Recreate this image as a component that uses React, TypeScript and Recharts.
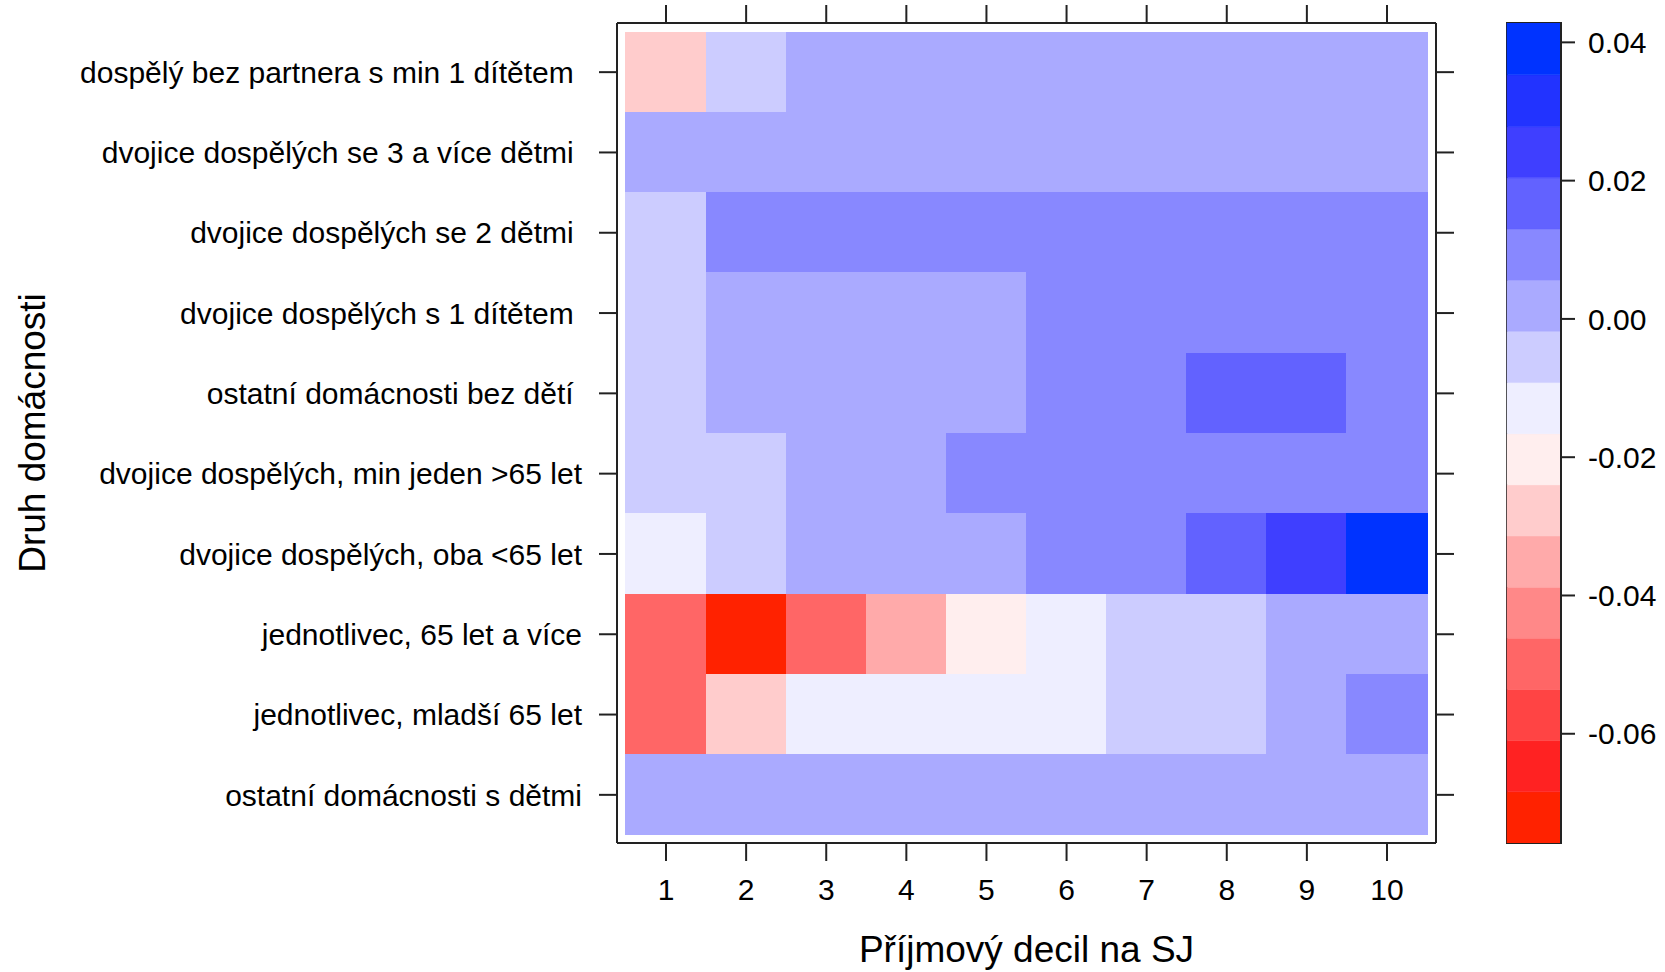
import React from 'react';
import { BarChart, Bar, XAxis, YAxis, Cell, ReferenceArea } from 'recharts';

// rows from top to bottom
const households = [
  'dospělý bez partnera s min 1 dítětem\u00A0',
  'dvojice dospělých se 3 a více dětmi\u00A0',
  'dvojice dospělých se 2 dětmi\u00A0',
  'dvojice dospělých s 1 dítětem\u00A0',
  'ostatní domácnosti bez dětí\u00A0',
  'dvojice dospělých, min jeden >65 let',
  'dvojice dospělých, oba <65 let',
  'jednotlivec, 65 let a více',
  'jednotlivec, mladší 65 let',
  'ostatní domácnosti s dětmi',
];

const deciles = [1, 2, 3, 4, 5, 6, 7, 8, 9, 10];

// values by decile 1..10
const singleParent = [-0.0281, -0.0061, 0.0018, 0.0025, 0.0031, 0.0022, 0.0015, 0.0028, 0.0012, 0.002];
const couple3Kids = [0.0008, 0.0021, 0.0034, 0.0029, 0.004, 0.0036, 0.0019, 0.0045, 0.0027, 0.0038];
const couple2Kids = [-0.0048, 0.0072, 0.0091, 0.0095, 0.0088, 0.0102, 0.0099, 0.011, 0.0106, 0.0094];
const couple1Kid = [-0.0062, 0.0011, 0.0026, 0.0038, 0.0047, 0.0068, 0.0079, 0.0085, 0.0097, 0.0089];
const otherNoKids = [-0.0035, -0.0004, 0.0022, 0.0033, 0.0049, 0.0081, 0.0112, 0.0152, 0.0168, 0.0121];
const coupleOver65 = [-0.0069, -0.0042, 0.0006, 0.0037, 0.0064, 0.0078, 0.0087, 0.0101, 0.0115, 0.0124];
const coupleUnder65 = [-0.0124, -0.0058, -0.0009, 0.0024, 0.0051, 0.0082, 0.0118, 0.0176, 0.0239, 0.0428];
const singleOver65 = [-0.0508, -0.0758, -0.0489, -0.0342, -0.0197, -0.0115, -0.0071, -0.0043, -0.001, 0.0007];
const singleUnder65 = [-0.0476, -0.0262, -0.0139, -0.012, -0.0108, -0.0097, -0.0083, -0.0052, 0.0003, 0.0067];
const otherWithKids = [0.0004, 0.0013, 0.0021, 0.0017, 0.003, 0.0026, 0.0035, 0.0024, 0.0041, 0.0032];

const rows = [
  singleParent, couple3Kids, couple2Kids, couple1Kid, otherNoKids,
  coupleOver65, coupleUnder65, singleOver65, singleUnder65, otherWithKids,
];

// colour key: 16 bins, low -> high
const binEdges = [
  -0.0758, -0.0684, -0.061, -0.0536, -0.0462, -0.0388, -0.0314, -0.024, -0.0166,
  -0.0092, -0.0018, 0.0056, 0.013, 0.0204, 0.0278, 0.0353, 0.0428,
];
const binColors = [
  '#FF2200', '#FF2222', '#FF4444', '#FF6666', '#FF8888', '#FFAAAA', '#FFCCCC', '#FFEEEE',
  '#EEEEFF', '#CCCCFF', '#AAAAFF', '#8888FF', '#6262FF', '#3F3FFF', '#2233FF', '#0033FF',
];
const keyTicks = [-0.06, -0.04, -0.02, 0, 0.02, 0.04];

const FONT = '"Liberation Sans", Arial, Helvetica, sans-serif';
const INK = '#222';

function colorOf(v: number) {
  for (let i = 0; i < binColors.length; i++) {
    if (v < binEdges[i + 1]) return binColors[i];
  }
  return binColors[binColors.length - 1];
}

const heatData = households.map((name) => {
  const row: Record<string, number | string> = { name, base: 0.5 };
  deciles.forEach((d) => (row[`d${d}`] = 1));
  return row;
});

const keyData = [
  binEdges.slice(1).reduce(
    (acc, e, i) => ({ ...acc, [`b${i}`]: e - binEdges[i] }),
    { k: 'key', base: binEdges[0] } as Record<string, number | string>,
  ),
];

const YTitle = ({ viewBox }: any) => {
  const cx = viewBox.x + 32;
  const cy = viewBox.y + viewBox.height / 2;
  return (
    <text
      x={cx}
      y={cy}
      transform={`rotate(-90 ${cx} ${cy})`}
      textAnchor="middle"
      dominantBaseline="central"
      fontSize={37}
      fill="#000"
    >
      Druh domácnosti
    </text>
  );
};

// tick marks without labels (top and right sides of the panel)
const NoLabel = () => <g />;

const xDomain: [number, number] = [0.388, 10.612];
const axisLine = { stroke: INK, strokeWidth: 2 };
const tickLine = { stroke: INK, strokeWidth: 2 };

export default function App() {
  return (
    <div style={{ position: 'absolute', left: 0, top: 0, width: 1665, height: 972, background: '#fff', fontFamily: FONT }}>
      <div style={{ position: 'absolute', left: 0, top: 0 }}>
        <BarChart
          width={1500}
          height={972}
          data={heatData}
          layout="vertical"
          margin={{ top: 0, right: 0, bottom: 0, left: 0 }}
          barCategoryGap={0}
          barGap={0}
        >
          <XAxis
            xAxisId="b"
            type="number"
            orientation="bottom"
            domain={xDomain}
            allowDataOverflow
            ticks={deciles}
            height={129}
            tickSize={18}
            tickMargin={18}
            tick={{ fontSize: 30, fill: '#000' }}
            axisLine={axisLine}
            tickLine={tickLine}
            label={{ value: 'Příjmový decil na SJ', position: 'insideBottom', offset: 10, fontSize: 37, fill: '#000' }}
          />
          <XAxis
            xAxisId="t"
            type="number"
            orientation="top"
            domain={xDomain}
            allowDataOverflow
            ticks={deciles}
            height={23}
            tickSize={18}
            tick={NoLabel}
            axisLine={axisLine}
            tickLine={tickLine}
          />
          <YAxis
            yAxisId="l"
            type="category"
            dataKey="name"
            width={617}
            padding={{ top: 9, bottom: 8 }}
            tickSize={18}
            tickMargin={17}
            tick={{ fontSize: 30, fill: '#000' }}
            axisLine={axisLine}
            tickLine={tickLine}
            label={<YTitle />}
          />
          <YAxis
            yAxisId="r"
            type="category"
            dataKey="name"
            orientation="right"
            width={64}
            padding={{ top: 9, bottom: 8 }}
            tickSize={18}
            tick={NoLabel}
            axisLine={axisLine}
            tickLine={tickLine}
          />
          <Bar dataKey="base" stackId="s" xAxisId="b" yAxisId="l" fill="transparent" isAnimationActive={false} />
          {deciles.map((d, j) => (
            <Bar key={d} dataKey={`d${d}`} stackId="s" xAxisId="b" yAxisId="l" isAnimationActive={false}>
              {rows.map((r, i) => (
                <Cell key={i} fill={colorOf(r[j])} stroke={colorOf(r[j])} strokeWidth={1} shapeRendering="crispEdges" />
              ))}
            </Bar>
          ))}
        </BarChart>
      </div>
      <div style={{ position: 'absolute', left: 1500, top: 0 }}>
        <BarChart
          width={165}
          height={972}
          data={keyData}
          margin={{ top: 23, right: 0, bottom: 129, left: 7 }}
          barCategoryGap={0}
          barGap={0}
        >
          <XAxis dataKey="k" type="category" hide />
          <YAxis
            type="number"
            orientation="right"
            domain={[binEdges[0], binEdges[binEdges.length - 1]]}
            allowDataOverflow
            ticks={keyTicks}
            tickFormatter={(v: number) => v.toFixed(2)}
            width={104}
            tickSize={14}
            tickMargin={13}
            tick={{ fontSize: 30, fill: '#000' }}
            axisLine={axisLine}
            tickLine={tickLine}
          />
          <Bar dataKey="base" stackId="k" fill="transparent" isAnimationActive={false} />
          {binColors.map((c, i) => (
            <Bar key={i} dataKey={`b${i}`} stackId="k" fill={c} stroke={c} strokeWidth={0.5} isAnimationActive={false} />
          ))}
          <ReferenceArea
            y1={binEdges[0]}
            y2={binEdges[binEdges.length - 1]}
            fill="none"
            stroke={INK}
            strokeWidth={2}
            ifOverflow="visible"
          />
        </BarChart>
      </div>
    </div>
  );
}
